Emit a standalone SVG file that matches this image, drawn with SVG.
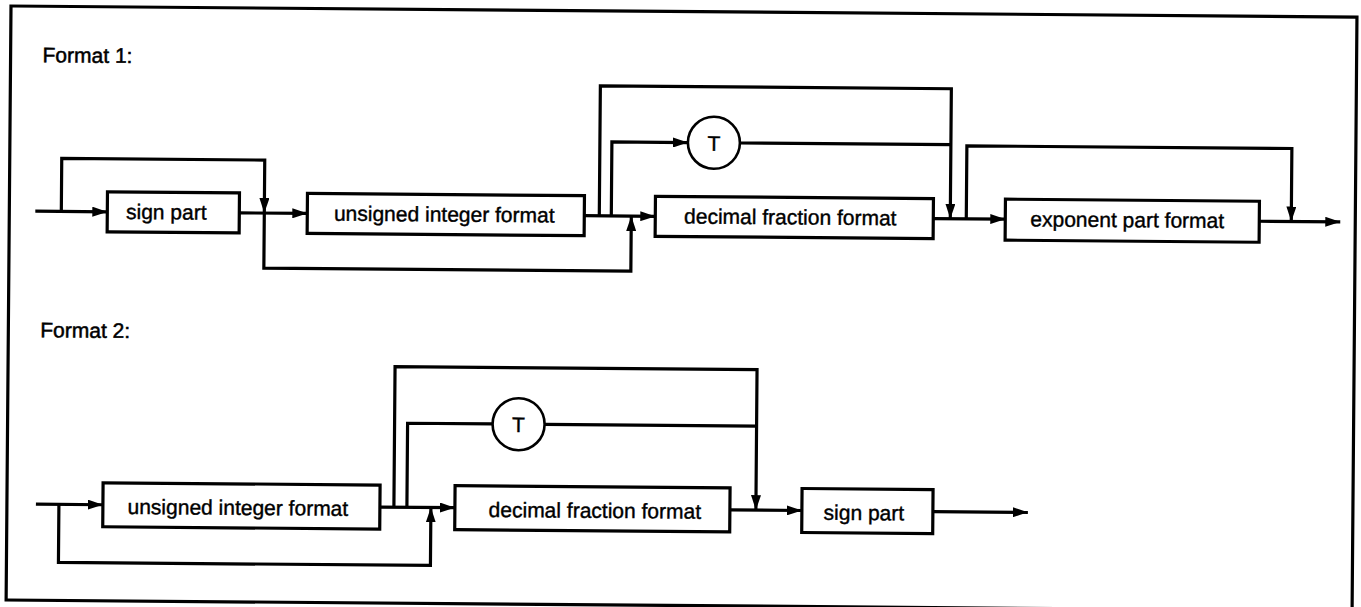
<svg xmlns="http://www.w3.org/2000/svg" width="1361" height="607" viewBox="0 0 1361 607">
<defs>
<marker id="ah" viewBox="0 0 15 10" refX="15" refY="5" markerWidth="15" markerHeight="10" markerUnits="userSpaceOnUse" orient="auto">
<path d="M0,0 L15,5 L0,10 z" fill="#000"/>
</marker>
<style>
.box{fill:#fff;stroke:#000;stroke-width:3.2}
.circ{fill:#fff;stroke:#000;stroke-width:2.6}
.ln{fill:none;stroke:#000;stroke-width:3.2;stroke-linejoin:miter}
.arr{fill:none;stroke:#000;stroke-width:3.2;marker-end:url(#ah)}
.lbl{font-family:"Liberation Sans",Arial,sans-serif;font-size:21px;fill:#000;stroke:#000;stroke-width:0.4;text-anchor:middle}
.ttl{font-family:"Liberation Sans",Arial,sans-serif;font-size:21px;fill:#000;stroke:#000;stroke-width:0.5}
</style>
</defs>
<rect width="1361" height="607" fill="#fff"/>
<g transform="rotate(0.47 11 6)">
<rect x="11" y="6" width="1346" height="594" fill="none" stroke="#000" stroke-width="3.2"/>
<text class="ttl" x="43" y="62">Format 1:</text>
<text class="ttl" x="43" y="337">Format 2:</text>

<g id="connectors">
<!-- Format 1 -->
<path class="arr" d="M37,211 H109"/>
<path class="arr" d="M63,211 V158 H266 V211"/>
<path class="arr" d="M241,211 H309"/>
<path class="arr" d="M266,211 V266 H633 V211"/>
<path class="arr" d="M586,211 H657"/>
<path class="arr" d="M601,211 V81 H952 V211"/>
<path class="arr" d="M613,211 V137 H689"/>
<path class="ln" d="M741,137 H952"/>
<path class="arr" d="M935,211 H1007"/>
<path class="arr" d="M968,211 V138 H1293 V211"/>
<path class="arr" d="M1261,211 H1342"/>
<!-- Format 2 -->
<path class="arr" d="M40,504 H107"/>
<path class="arr" d="M63,504 V562 H435 V504"/>
<path class="arr" d="M384,504 H459"/>
<path class="arr" d="M398,504 V363.5 H760 V504"/>
<path class="ln" d="M411,504 V420 H496"/>
<path class="ln" d="M548,420 H760"/>
<path class="arr" d="M734,504 H806"/>
<path class="arr" d="M937,504 H1032"/>
</g>

<g id="f1-sign">
<rect class="box" x="109" y="191" width="132" height="40"/>
<text class="lbl" x="168" y="218">sign part</text>
</g>
<g id="f1-uint">
<rect class="box" x="309" y="191" width="277" height="40"/>
<text class="lbl" x="446" y="218">unsigned integer format</text>
</g>
<g id="f1-T">
<circle class="circ" cx="715" cy="137" r="26"/>
<text class="lbl" x="715" y="145">T</text>
</g>
<g id="f1-dec">
<rect class="box" x="657" y="191" width="278" height="40"/>
<text class="lbl" x="792" y="218">decimal fraction format</text>
</g>
<g id="f1-exp">
<rect class="box" x="1007" y="191" width="254" height="41"/>
<text class="lbl" x="1129" y="218">exponent part format</text>
</g>

<g id="f2-uint">
<rect class="box" x="107" y="482" width="277" height="44"/>
<text class="lbl" x="242" y="513">unsigned integer format</text>
</g>
<g id="f2-T">
<circle class="circ" cx="522" cy="420" r="26"/>
<text class="lbl" x="522" y="428">T</text>
</g>
<g id="f2-dec">
<rect class="box" x="459" y="482" width="275" height="44"/>
<text class="lbl" x="599" y="513">decimal fraction format</text>
</g>
<g id="f2-sign">
<rect class="box" x="806" y="482" width="131" height="44"/>
<text class="lbl" x="868" y="513">sign part</text>
</g>
</g>
</svg>
